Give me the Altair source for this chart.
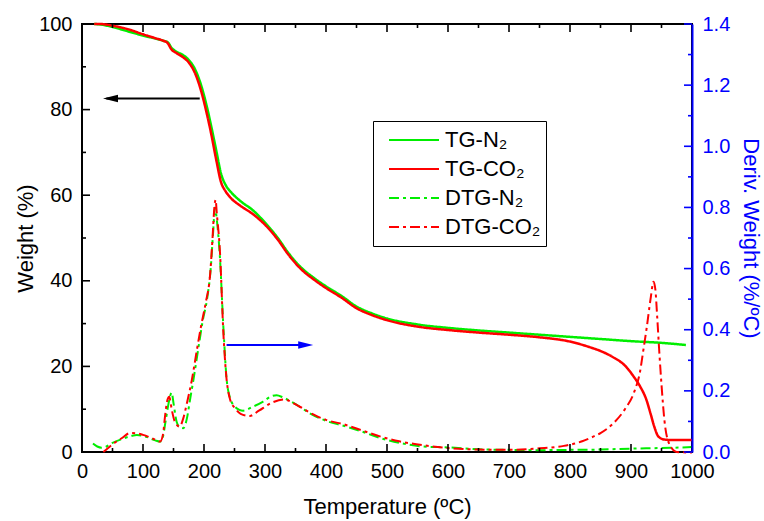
import altair as alt
import pandas as pd

FONT = "Liberation Sans"

SERIES = ["TG-N₂", "TG-CO₂", "DTG-N₂", "DTG-CO₂"]
COLORS = ["#00ee00", "#ff0000", "#00ee00", "#ff0000"]
DASHES = [[1, 0], [1, 0], [10, 4, 3, 4], [10, 4, 3, 4]]

# TG curves (Weight %, left axis)
T_TG_N2 = [20, 30, 50, 75, 100, 120, 133, 140, 147, 155, 165, 175, 185, 195, 205, 212, 220, 228, 235, 245,
           260, 280, 300, 320, 340, 360, 380, 400, 425, 450, 475, 500, 550, 600, 650, 700, 750, 800, 850, 900,
           950, 990]
TG_N2 = [100, 99.9, 99.3, 98.3, 97.3, 96.6, 96.1, 95.8, 94.4, 93.5, 92.8, 91.6, 89.5, 85.8, 80.5, 76.0, 70.5,
         65.0, 62.5, 60.6, 58.6, 56.5, 53.6, 50.2, 46.2, 43.0, 40.7, 38.7, 36.5, 34.0, 32.4, 31.2, 29.8, 29.0,
         28.4, 27.9, 27.4, 26.9, 26.4, 25.9, 25.5, 25.0]

T_TG_CO2 = [20, 30, 50, 75, 100, 120, 133, 140, 147, 155, 165, 175, 185, 195, 205, 212, 220, 228, 235, 245,
            260, 280, 300, 320, 340, 360, 380, 400, 425, 450, 475, 500, 550, 600, 650, 700, 750, 800, 830, 850,
            870, 890, 905, 915, 925, 932, 938, 945, 955, 970, 1000]
TG_CO2 = [100, 100, 99.6, 98.8, 97.6, 96.7, 96.1, 95.6, 94.0, 93.2, 92.3, 91.0, 88.6, 84.5, 78.8, 74.2, 68.3,
          63.0, 61.0, 59.2, 57.5, 55.6, 53.1, 49.8, 45.8, 42.6, 40.3, 38.3, 36.1, 33.6, 32.0, 30.8, 29.3, 28.5,
          27.9, 27.4, 26.8, 25.8, 24.6, 23.6, 22.2, 20.2, 17.5, 15.3, 12.3, 9.0, 6.0, 3.6, 2.9, 2.8, 2.8]

# DTG curves (Deriv. weight %/ºC, right axis)
T_DTG_N2 = [18, 25, 32, 40, 50, 65, 80, 90, 105, 120, 128, 132, 137, 142, 147, 150, 155, 160, 166, 172, 177,
            183, 190, 198, 205, 211, 215, 218, 221, 226, 232, 237, 243, 250, 258, 264, 280, 297, 310, 319, 330,
            357, 375, 400, 430, 460, 490, 520, 560, 600, 650, 700, 750, 800, 850, 900, 950, 1000]
DTG_N2 = [0.028, 0.018, 0.014, 0.018, 0.030, 0.042, 0.052, 0.056, 0.050, 0.038, 0.034, 0.045, 0.100, 0.160,
          0.194, 0.160, 0.100, 0.082, 0.078, 0.110, 0.170, 0.240, 0.330, 0.430, 0.500, 0.600, 0.720, 0.800,
          0.760, 0.640, 0.400, 0.240, 0.175, 0.150, 0.138, 0.135, 0.148, 0.165, 0.182, 0.186, 0.178, 0.148,
          0.125, 0.102, 0.085, 0.066, 0.045, 0.030, 0.018, 0.015, 0.009, 0.007, 0.006, 0.007, 0.008, 0.011,
          0.013, 0.016]

T_DTG_CO2 = [35, 40, 50, 65, 79, 90, 100, 115, 128, 133, 136, 140, 143, 147, 152, 160, 166, 172, 180, 188,
             195, 203, 210, 214, 217, 219, 221, 226, 232, 236, 243, 251, 260, 275, 290, 310, 330, 357, 380,
             400, 430, 460, 490, 520, 560, 600, 650, 700, 750, 790, 820, 838, 850, 870, 890, 905, 915, 920,
             926, 932, 937, 940, 943, 946, 950, 955, 962, 975, 1000]
DTG_CO2 = [0.000, 0.008, 0.025, 0.045, 0.062, 0.061, 0.056, 0.045, 0.034, 0.060, 0.115, 0.170, 0.181, 0.140,
           0.100, 0.083, 0.110, 0.160, 0.235, 0.330, 0.410, 0.490, 0.580, 0.700, 0.800, 0.825, 0.780, 0.660,
           0.380, 0.260, 0.170, 0.143, 0.125, 0.118, 0.135, 0.160, 0.172, 0.148, 0.122, 0.105, 0.090, 0.070,
           0.050, 0.035, 0.022, 0.013, 0.008, 0.007, 0.012, 0.020, 0.035, 0.050, 0.062, 0.092, 0.140, 0.195,
           0.265, 0.330, 0.410, 0.500, 0.557, 0.530, 0.440, 0.340, 0.220, 0.100, 0.030, 0.000, -0.002]

# axis ticks / labels
X_MAJOR = [0, 100, 200, 300, 400, 500, 600, 700, 800, 900, 1000]
X_MINOR = [50, 150, 250, 350, 450, 550, 650, 750, 850, 950]
YL_MAJOR = [0, 20, 40, 60, 80, 100]
YL_MINOR = [10, 30, 50, 70, 90]
YR_MAJOR = [0.0, 0.2, 0.4, 0.6, 0.8, 1.0, 1.2, 1.4]
YR_MINOR = [0.1, 0.3, 0.5, 0.7, 0.9, 1.1, 1.3]

# annotation arrows
ARROW_W = [82.6]        # black arrow (weight axis)
ARROW_W_T = [193, 40, 34.4]
ARROW_D = [0.35]        # blue arrow (deriv axis)
ARROW_D_T = [237, 372, 379]

XDOM = [0, 1000]
WDOM = [0, 100]
DDOM = [0, 1.4]
W_PX, H_PX = 610, 428

tg = pd.concat([
    pd.DataFrame({"T": T_TG_N2, "W": TG_N2, "series": SERIES[0]}),
    pd.DataFrame({"T": T_TG_CO2, "W": TG_CO2, "series": SERIES[1]}),
])
dtg = pd.concat([
    pd.DataFrame({"T": T_DTG_N2, "D": DTG_N2, "series": SERIES[2]}),
    pd.DataFrame({"T": T_DTG_CO2, "D": DTG_CO2, "series": SERIES[3]}),
])


def sc(dom):
    return alt.Scale(domain=dom, nice=False)


def ax(**kw):
    base = dict(grid=False, domain=False, ticks=False, tickSize=0, labelFont=FONT, titleFont=FONT,
                labelFontSize=20, titleFontSize=22, titleFontWeight="normal", labelColor="black",
                titleColor="black", labelFlush=False, labelOverlap=False, zindex=1)
    base.update(kw)
    return alt.Axis(**base)


legend = alt.Legend(title=None, orient="none", legendX=291, legendY=97, direction="vertical",
                    labelFont=FONT, labelFontSize=22, labelColor="black", symbolType="stroke",
                    symbolSize=2500, symbolStrokeWidth=2, strokeColor="black", padding=5,
                    clipHeight=28, rowPadding=1, symbolOffset=10, labelOffset=5, fillColor="white")
color = alt.Color("series:N", scale=alt.Scale(domain=SERIES, range=COLORS), legend=legend, sort=SERIES)
dash = alt.StrokeDash("series:N", scale=alt.Scale(domain=SERIES, range=DASHES), legend=legend, sort=SERIES)

tg_layer = alt.Chart(tg).mark_line(strokeWidth=2.5, interpolate="monotone").encode(
    x=alt.X("T:Q", scale=sc(XDOM),
            axis=ax(orient="bottom", values=X_MAJOR, format="d", labelPadding=9,
                    title="Temperature (ºC)", titlePadding=15)),
    y=alt.Y("W:Q", scale=sc(WDOM),
            axis=ax(orient="left", values=YL_MAJOR, format="d", labelPadding=10,
                    title="Weight (%)", titlePadding=1)),
    color=color, strokeDash=dash, detail="series:N",
)

dtg_layer = alt.Chart(dtg).mark_line(strokeWidth=2, interpolate="monotone").encode(
    x=alt.X("T:Q", scale=sc(XDOM), axis=None),
    y=alt.Y("D:Q", scale=sc(DDOM),
            axis=ax(orient="right", values=YR_MAJOR, format=".1f", labelPadding=10, labelColor="blue",
                    title="Deriv. Weight (%/ºC)", titleColor="blue", titlePadding=9,
                    domain=True, domainColor="blue", domainWidth=2)),
    color=color, strokeDash=dash, detail="series:N",
)


def xticks(values, y0, y1, col="black"):
    return alt.Chart(pd.DataFrame({"v": values})).mark_rule(color=col, strokeWidth=1.6).encode(
        x=alt.X("v:Q", scale=sc(XDOM), axis=None), y=alt.value(y0), y2=alt.value(y1))


def yticks(values, dom, x0, x1, col="black"):
    return alt.Chart(pd.DataFrame({"v": values})).mark_rule(color=col, strokeWidth=1.6).encode(
        y=alt.Y("v:Q", scale=sc(dom), axis=None), x=alt.value(x0), x2=alt.value(x1))


tick_layers = [
    xticks(X_MAJOR, H_PX, H_PX - 8), xticks(X_MINOR, H_PX, H_PX - 4),
    xticks(X_MAJOR, 0, 8), xticks(X_MINOR, 0, 4),
    yticks(YL_MAJOR, WDOM, 0, 8), yticks(YL_MINOR, WDOM, 0, 4),
    yticks(YR_MAJOR, DDOM, W_PX, W_PX - 8, "blue"), yticks(YR_MINOR, DDOM, W_PX, W_PX - 4, "blue"),
]

aw = pd.DataFrame({"T1": [ARROW_W_T[0]], "T2": [ARROW_W_T[1]], "Th": [ARROW_W_T[2]], "W": ARROW_W})
ad = pd.DataFrame({"T1": [ARROW_D_T[0]], "T2": [ARROW_D_T[1]], "Th": [ARROW_D_T[2]], "D": ARROW_D})

arrow_w = alt.Chart(aw).mark_rule(color="black", strokeWidth=2).encode(
    x=alt.X("T1:Q", scale=sc(XDOM), axis=None), x2="T2:Q",
    y=alt.Y("W:Q", scale=sc(WDOM), axis=None))
head_w = alt.Chart(aw).mark_point(shape="M0,0L2,-0.5L2,0.5Z", filled=True, size=225, color="black",
                                  opacity=1).encode(
    x=alt.X("Th:Q", scale=sc(XDOM), axis=None),
    y=alt.Y("W:Q", scale=sc(WDOM), axis=None))
arrow_d = alt.Chart(ad).mark_rule(color="blue", strokeWidth=2).encode(
    x=alt.X("T1:Q", scale=sc(XDOM), axis=None), x2="T2:Q",
    y=alt.Y("D:Q", scale=sc(DDOM), axis=None))
head_d = alt.Chart(ad).mark_point(shape="M0,0L-2,-0.5L-2,0.5Z", filled=True, size=225, color="blue",
                                  opacity=1).encode(
    x=alt.X("Th:Q", scale=sc(XDOM), axis=None),
    y=alt.Y("D:Q", scale=sc(DDOM), axis=None))

chart = alt.layer(
    tg_layer, dtg_layer, arrow_w, head_w, arrow_d, head_d, *tick_layers
).resolve_scale(
    x="independent", y="independent"
).properties(
    width=W_PX, height=H_PX,
    padding={"left": 82, "top": 24, "right": 72, "bottom": 69},
    autosize=alt.AutoSizeParams(type="none"),
    background="white",
).configure(font=FONT).configure_view(stroke="black", strokeWidth=2)

chart.save("out.html", embed_options={"renderer": "svg", "actions": False})
